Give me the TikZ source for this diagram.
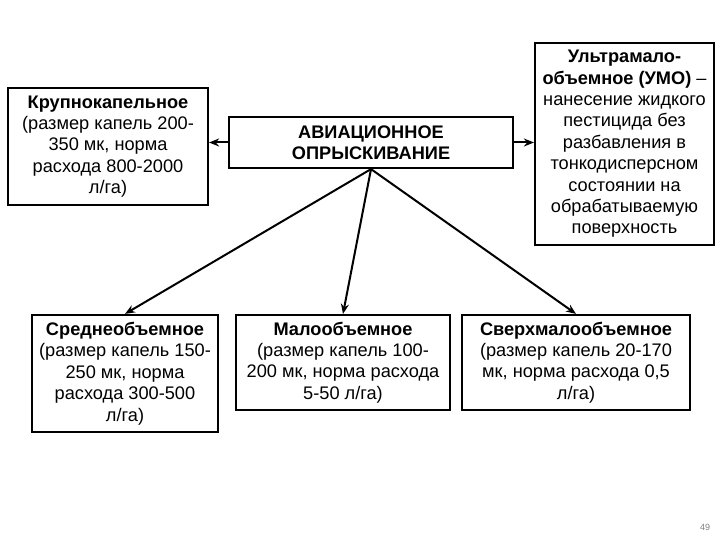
\documentclass[tikz,border=0pt]{standalone}
\usepackage{fontspec}
\setmainfont{Liberation Sans}
\usetikzlibrary{arrows.meta}
\tikzset{
  box/.style = {draw, line width = 2.2pt, align = center, inner sep = 1pt,
    font = \fontsize{18.2}{21.4}\selectfont},
  arr/.style = {-{Stealth[length = 10pt, width = 8pt]}, line width = 2pt}
}
\begin{document}
\begin{tikzpicture}[x = 1pt, y = -1pt]
  \useasboundingbox (0, 0) rectangle (720, 540);
  \node [box, minimum width = 284pt, minimum height = 51pt] (avia) at (371, 142.5)
    {\textbf{АВИАЦИОННОЕ}\\ \textbf{ОПРЫСКИВАНИЕ}};
  \node [box, minimum width = 200pt, minimum height = 117pt] (krup) at (108, 146.5)
    {\textbf{Крупнокапельное}\\ (размер капель 200-\\ 350 мк, норма\\ расхода 800-2000\\ л/га)};
  \node [box, minimum width = 179pt, minimum height = 202pt] (ultra) at (624.5, 144)
    {\textbf{Ультрамало-}\\ \textbf{объемное (УМО)} –\\ нанесение жидкого\\ пестицида без\\ разбавления в\\ тонкодисперсном\\ состоянии на\\ обрабатываемую\\ поверхность};
  \node [box, minimum width = 186pt, minimum height = 117pt] (sred) at (125, 373.5)
    {\textbf{Среднеобъемное}\\ (размер капель 150-\\ 250 мк, норма\\ расхода 300-500\\ л/га)};
  \node [box, minimum width = 214pt, minimum height = 95pt] (malo) at (343, 362.5)
    {\textbf{Малообъемное}\\ (размер капель 100-\\ 200 мк, норма расхода\\ 5-50 л/га)};
  \node [box, minimum width = 228pt, minimum height = 95pt] (sverh) at (576, 362.5)
    {\textbf{Сверхмалообъемное}\\ (размер капель 20-170\\ мк, норма расхода 0,5\\ л/га)};
  \node [text = gray, font = \fontsize{9}{10}\selectfont] (page) at (705, 527) {49};
  % connectors
  \draw [arr] (avia.west) -- (krup.east |- avia.west);
  \draw [arr] (avia.east) -- (ultra.west |- avia.east);
  \draw [arr] (avia.south) -- (sred.north);
  \draw [arr] (avia.south) -- (malo.north);
  \draw [arr] (avia.south) -- (sverh.north);
\end{tikzpicture}
\end{document}
